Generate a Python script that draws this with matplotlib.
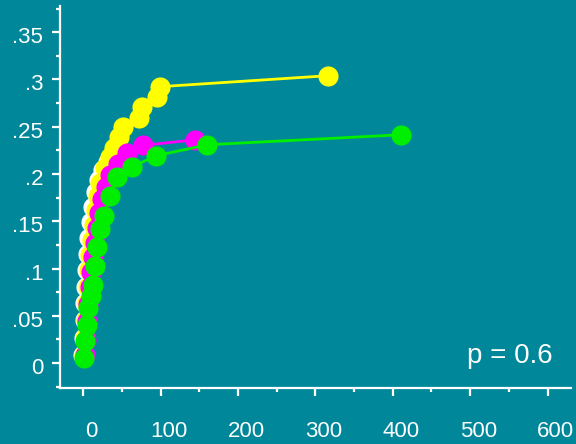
import matplotlib.pyplot as plt
import matplotlib.transforms as mtransforms
from matplotlib.ticker import MultipleLocator

bg = "#00879a"

# series (x, y)
white_x = [0, 1.3, 2.6, 2.6, 3.9, 5.2, 6.5, 7.7, 10.3, 12.9, 16.8, 20.6, 25.8, 32.3, 38.7, 45]
white_y = [0.0085, 0.0265, 0.0456, 0.0636, 0.0805, 0.0985, 0.1155, 0.1324, 0.1494, 0.1653, 0.1811, 0.1939, 0.2045, 0.2129, 0.2193, 0.2235]

yellow_x = [1.3, 2.6, 3.9, 5.2, 6.5, 7.7, 9.0, 11.6, 14.2, 16.8, 19.4, 21.9, 28.4, 34.8, 40.0, 46.5, 51.6, 72.3, 76.1, 95.5, 99.4, 316]
yellow_y = [0.0085, 0.0265, 0.0456, 0.0636, 0.0805, 0.0985, 0.1144, 0.1303, 0.1462, 0.1621, 0.1769, 0.1907, 0.2066, 0.2182, 0.2278, 0.2394, 0.2500, 0.2595, 0.2712, 0.2818, 0.2924, 0.3040]

magenta_x = [2.6, 3.9, 5.2, 6.5, 9.0, 10.3, 12.9, 15.5, 18.1, 20.6, 24.5, 29.7, 34.8, 45.2, 56.8, 77.4, 144.5]
magenta_y = [0.0085, 0.0244, 0.0445, 0.0625, 0.0805, 0.0964, 0.1123, 0.1271, 0.1430, 0.1589, 0.1737, 0.1864, 0.1985, 0.2108, 0.2224, 0.2303, 0.2362]

green_x = [1.3, 2.6, 5.2, 6.5, 10.3, 12.9, 15.5, 18.1, 21.9, 27.1, 34.8, 43.9, 63.2, 94.2, 160, 410]
green_y = [0.0053, 0.0233, 0.0403, 0.0583, 0.0710, 0.0826, 0.1028, 0.1229, 0.1420, 0.1557, 0.1769, 0.1970, 0.2076, 0.2193, 0.2309, 0.2415]

y_ticks = [0, 0.05, 0.1, 0.15, 0.2, 0.25, 0.3, 0.35]
y_labels = ["0", ".05", ".1", ".15", ".2", ".25", ".3", ".35"]
x_ticks = [0, 100, 200, 300, 400, 500, 600]

plt.rcParams["font.family"] = ["Liberation Sans", "DejaVu Sans"]

fig = plt.figure(figsize=(5.76, 4.44), dpi=100, facecolor=bg)
ax = fig.add_axes([0.104, 0.126, 0.887, 0.861], facecolor=bg)

for xs, ys, c in [(white_x, white_y, "white"),
                  (yellow_x, yellow_y, "#ffff00"),
                  (magenta_x, magenta_y, "#ff00ff"),
                  (green_x, green_y, "#00ee00")]:
    ax.plot(xs, ys, color=c, linewidth=2, marker="o", markersize=14.5,
            markeredgewidth=0, clip_on=False)

ax.set_xlim(-30, 630)
ax.set_ylim(-0.0265, 0.378)

ax.set_xticks(x_ticks)
ax.set_yticks(y_ticks)
ax.set_yticklabels(y_labels)
ax.xaxis.set_minor_locator(MultipleLocator(50))
ax.yaxis.set_minor_locator(MultipleLocator(0.025))

for s in ["top", "right"]:
    ax.spines[s].set_visible(False)
for s in ["left", "bottom"]:
    ax.spines[s].set_color("white")
    ax.spines[s].set_linewidth(1.6)

ax.tick_params(axis="both", which="major", colors="white", length=6, width=1.6,
               labelsize=16)
ax.tick_params(axis="both", which="minor", colors="white", length=3, width=1.6)
ax.tick_params(axis="x", which="major", pad=18)
ax.tick_params(axis="y", which="major", pad=6)

# labels in the reference sit a little off their ticks
xoff = mtransforms.ScaledTranslation(0.08, 0, fig.dpi_scale_trans)
for lab in ax.get_xticklabels():
    lab.set_transform(lab.get_transform() + xoff)
yoff = mtransforms.ScaledTranslation(0, -0.03, fig.dpi_scale_trans)
for lab in ax.get_yticklabels():
    lab.set_transform(lab.get_transform() + yoff)

fig.text(0.96, 0.182, "p = 0.6", color="white", fontsize=20, ha="right",
         va="baseline")

fig.savefig("out.png", dpi=100, facecolor=bg)
